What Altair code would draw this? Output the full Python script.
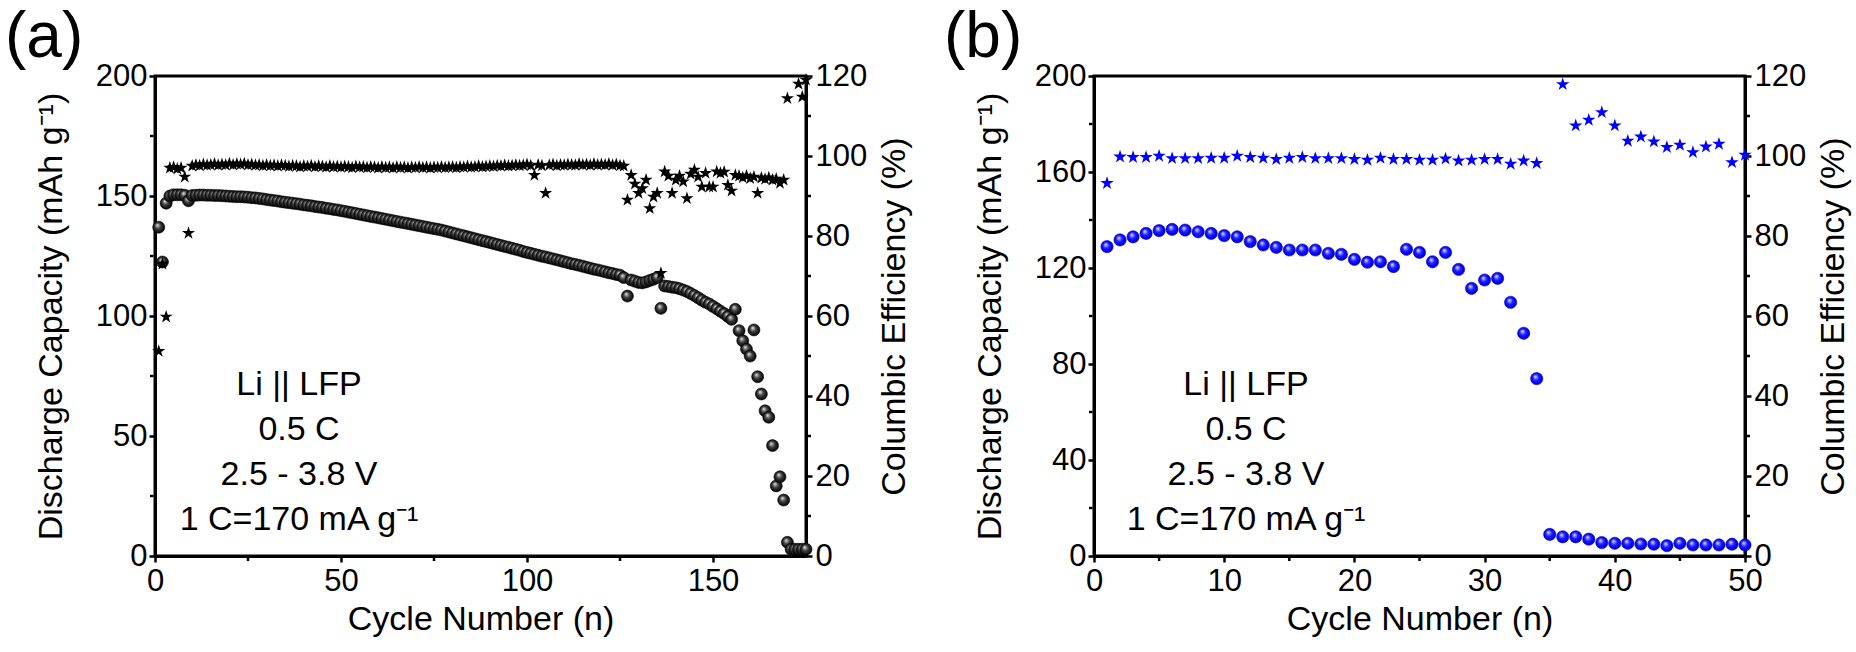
import altair as alt
import pandas as pd

# ---------------- data ----------------
cycles_a = list(range(1, 176))
capacity_a = [
    137.0, 122.5, 147.0, 150.0, 150.5, 150.5, 150.5, 150.3, 148.0, 150.2,
    150.3, 150.4, 150.4, 150.3, 150.3, 150.2, 150.2, 150.1, 150.0, 149.9,
    149.8, 149.7, 149.7, 149.6, 149.5, 149.3, 149.2, 149.0, 148.8, 148.5,
    148.3, 148.1, 147.9, 147.6, 147.4, 147.2, 147.0, 146.8, 146.6, 146.3,
    146.1, 145.9, 145.6, 145.4, 145.2, 144.9, 144.7, 144.4, 144.2, 143.9,
    143.6, 143.3, 143.0, 142.7, 142.4, 142.1, 141.8, 141.5, 141.2, 140.9,
    140.6, 140.3, 140.0, 139.7, 139.4, 139.1, 138.8, 138.5, 138.2, 137.9,
    137.6, 137.3, 137.0, 136.7, 136.4, 136.1, 135.8, 135.4, 135.0, 134.6,
    134.2, 133.8, 133.4, 133.0, 132.6, 132.2, 131.8, 131.4, 131.0, 130.6,
    130.2, 129.8, 129.4, 129.0, 128.6, 128.2, 127.8, 127.4, 126.9, 126.5,
    126.1, 125.7, 125.3, 124.9, 124.6, 124.2, 123.8, 123.4, 123.0, 122.6,
    122.2, 121.8, 121.5, 121.1, 120.7, 120.3, 119.9, 119.5, 119.2, 118.8,
    118.4, 118.0, 117.7, 117.3, 117.0, 116.0, 108.3, 115.0, 114.5, 114.0,
    113.8, 114.2, 114.8, 115.3, 116.0, 103.2, 112.5, 112.3, 112.0, 111.8,
    111.4, 110.8, 110.2, 109.4, 108.5, 107.6, 106.6, 105.7, 105.0, 104.0,
    103.0, 102.0, 101.0, 99.8, 98.6, 102.8, 93.9, 89.7, 86.2, 83.3,
    94.2, 74.7, 67.5, 60.5, 57.8, 46.0, 29.2, 33.0, 23.3, 5.7,
    2.8, 2.8, 2.8, 2.8, 2.8,
]
ce_a = [
    51.2, 73.0, 59.8, 97.0, 97.2, 96.8, 97.0, 94.8, 80.7, 97.5,
    97.8, 97.6, 97.9, 97.7, 97.8, 98.0, 97.7, 97.9, 97.8, 98.1,
    97.8, 98.0, 97.9, 98.1, 97.8, 97.9, 97.7, 97.8, 97.6, 97.8,
    97.6, 97.7, 97.5, 97.7, 97.6, 97.4, 97.6, 97.5, 97.3, 97.5,
    97.4, 97.6, 97.3, 97.5, 97.4, 97.2, 97.5, 97.3, 97.4, 97.2,
    97.4, 97.3, 97.1, 97.4, 97.2, 97.3, 97.1, 97.3, 97.2, 97.0,
    97.3, 97.1, 97.2, 97.0, 97.3, 97.1, 97.2, 97.0, 97.2, 97.1,
    97.3, 97.1, 97.2, 97.0, 97.2, 97.1, 97.3, 97.1, 97.2, 97.3,
    97.1, 97.3, 97.2, 97.4, 97.2, 97.3, 97.5, 97.3, 97.4, 97.5,
    97.4, 97.6, 97.5, 97.7, 97.5, 97.6, 97.8, 97.6, 97.7, 97.9,
    97.6, 95.2, 97.8, 97.6, 90.7, 97.7, 97.9, 97.6, 97.8, 97.7,
    97.9, 97.8, 97.7, 98.0, 97.8, 97.9, 97.7, 98.0, 97.8, 97.9,
    97.8, 98.0, 97.7, 97.9, 97.6, 97.5, 89.0, 95.2, 93.0, 90.7,
    91.9, 94.0, 86.9, 89.8, 90.7, 70.7, 96.1, 95.0, 90.7, 94.0,
    95.0, 93.6, 89.4, 95.5, 96.5, 94.8, 92.3, 95.7, 92.3, 92.3,
    96.1, 95.7, 96.0, 92.7, 91.3, 95.2, 95.0, 94.6, 95.0, 94.4,
    94.8, 90.7, 94.5, 94.2, 94.6, 94.0, 94.3, 93.2, 94.0, 114.4,
    None, None, 118.0, 114.8, 119.0,
]

cycles_b = list(range(1, 51))
capacity_b = [
    128.9, 131.7, 133.0, 134.4, 135.6, 136.1, 135.8, 135.1, 134.4, 133.5,
    133.0, 131.0, 129.6, 128.6, 127.5, 127.5, 127.5, 126.1, 125.7, 123.6,
    122.4, 122.6, 120.6, 127.8, 126.5, 122.6, 126.5, 119.4, 111.5, 115.0,
    115.7, 105.7, 92.8, 73.9, 9.0, 8.0, 8.0, 7.0, 5.6, 5.3,
    5.3, 5.0, 4.9, 4.3, 5.3, 4.6, 4.6, 4.6, 4.9, 4.6,
]
ce_b = [
    93.2, 99.8, 99.7, 99.7, 100.0, 99.4, 99.4, 99.4, 99.5, 99.5,
    100.0, 99.7, 99.5, 99.2, 99.5, 99.7, 99.4, 99.4, 99.4, 99.2,
    99.0, 99.5, 99.2, 99.2, 99.0, 99.0, 99.3, 98.8, 99.0, 99.2,
    99.2, 98.0, 98.8, 98.2, None, 117.9, 107.6, 109.0, 110.9, 107.6,
    103.75, 104.8, 103.6, 102.2, 102.75, 100.9, 102.3, 103.0, 98.4, 100.25,
]

x_domain_a = [0, 175]
x_ticks_a = [0, 50, 100, 150]
x_minor_a = [25, 75, 125]
cap_ticks_a = [0, 50, 100, 150, 200]
cap_minor_a = [25, 75, 125, 175]

x_domain_b = [0, 50]
x_ticks_b = [0, 10, 20, 30, 40, 50]
x_minor_b = [5, 15, 25, 35, 45]
cap_ticks_b = [0, 40, 80, 120, 160, 200]
cap_minor_b = [20, 60, 100, 140, 180]

cap_domain = [0, 200]
ce_domain = [0, 120]
ce_ticks = [0, 20, 40, 60, 80, 100, 120]
ce_minor = [10, 30, 50, 70, 90, 110]

annotation_lines = ["Li || LFP", "0.5 C", "2.5 - 3.8 V", "1 C=170 mA g\u207b\u00b9"]
x_title = "Cycle Number (n)"
cap_title = "Discharge Capacity (mAh g\u207b\u00b9)"
ce_title = "Columbic Efficiency (%)"

# ---------------- styling ----------------
FONT = "Liberation Sans, Arial, Helvetica, sans-serif"
W, H = 651, 480
LFS = 31   # tick labels
TFS = 34   # axis titles
STAR = ("M0,-1L0.2245,-0.309L0.951,-0.309L0.363,0.118L0.588,0.809L0,0.382"
        "L-0.588,0.809L-0.363,0.118L-0.951,-0.309L-0.2245,-0.309Z")


def ball_gradient(light, mid, dark, edge):
    return alt.RadialGradient(
        gradient="radial",
        stops=[
            alt.GradientStop(color="#ffffff", offset=0.0),
            alt.GradientStop(color=light, offset=0.16),
            alt.GradientStop(color=mid, offset=0.45),
            alt.GradientStop(color=dark, offset=0.78),
            alt.GradientStop(color=edge, offset=1.0),
        ],
        x1=0.38, y1=0.32, r1=0.0, x2=0.5, y2=0.5, r2=0.55,
    )


def panel(label, cyc, cap, ce, xdom, xt, xm, ct, cm, grad, ball_stroke, star_color,
          ball_size, star_size, ann_x):
    df_cap = pd.DataFrame({"n": cyc, "cap": cap})
    df_ce = pd.DataFrame({"n": cyc, "ce": ce}).dropna()

    xs = alt.Scale(domain=xdom, nice=False, zero=False)
    cs = alt.Scale(domain=cap_domain, nice=False)
    es = alt.Scale(domain=ce_domain, nice=False)

    x_axis = alt.Axis(values=xt, title=x_title, orient="bottom",
                      titlePadding=6, labelPadding=4)
    cap_axis = alt.Axis(values=ct, title=cap_title, orient="left",
                        titlePadding=27, labelPadding=2)
    ce_axis = alt.Axis(values=ce_ticks, title=ce_title, orient="right",
                       titleAngle=270, titleBaseline="top",
                       titlePadding=11, labelPadding=3)

    balls = alt.Chart(df_cap).mark_point(
        shape="circle", filled=True, size=ball_size, fill=grad,
        stroke=ball_stroke, strokeWidth=0.6, opacity=1,
    ).encode(
        x=alt.X("n:Q", scale=xs, axis=x_axis),
        y=alt.Y("cap:Q", scale=cs, axis=cap_axis),
    )

    minor_x = alt.Chart(pd.DataFrame({"n": xm})).mark_rule(
        color="black", strokeWidth=2.5).encode(
        x=alt.X("n:Q", scale=xs, axis=x_axis),
        y=alt.value(H + 1.5), y2=alt.value(H + 5))

    minor_l = alt.Chart(pd.DataFrame({"cap": cm})).mark_rule(
        color="black", strokeWidth=2.5).encode(
        y=alt.Y("cap:Q", scale=cs, axis=cap_axis),
        x=alt.value(-1.5), x2=alt.value(-5))

    ann = alt.Chart(pd.DataFrame({"k": [0]})).mark_text(
        text=annotation_lines, font=FONT, fontSize=34, lineHeight=45,
        align="center", baseline="alphabetic", color="black",
    ).encode(x=alt.value(ann_x), y=alt.value(319))

    lab = alt.Chart(pd.DataFrame({"k": [0]})).mark_text(
        text=label, font=FONT, fontSize=64, align="left",
        baseline="alphabetic", color="black",
    ).encode(x=alt.value(-150), y=alt.value(-19))

    stars = alt.Chart(df_ce).mark_point(
        shape=STAR, filled=True, size=star_size, color=star_color, opacity=1,
    ).encode(
        x=alt.X("n:Q", scale=xs, axis=x_axis),
        y=alt.Y("ce:Q", scale=es, axis=ce_axis),
    )

    minor_r = alt.Chart(pd.DataFrame({"ce": ce_minor})).mark_rule(
        color="black", strokeWidth=2.5).encode(
        y=alt.Y("ce:Q", scale=es, axis=ce_axis),
        x=alt.value(W + 1.5), x2=alt.value(W + 5))

    left = alt.layer(balls, minor_x, minor_l, ann, lab)
    right = alt.layer(stars, minor_r)
    return alt.layer(left, right).resolve_scale(y="independent").properties(
        width=W, height=H)


grad_a = ball_gradient("#a8a8a8", "#404040", "#141414", "#000000")
grad_b = ball_gradient("#a0a0ff", "#2020ff", "#0000f0", "#0000c0")

pa = panel("(a)", cycles_a, capacity_a, ce_a, x_domain_a, x_ticks_a, x_minor_a,
           cap_ticks_a, cap_minor_a, grad_a, "#000000", "black", 144, 190, 144)
pb = panel("(b)", cycles_b, capacity_b, ce_b, x_domain_b, x_ticks_b, x_minor_b,
           cap_ticks_b, cap_minor_b, grad_b, "#0000d0", "#0000ff", 150, 200, 152)

chart = alt.hconcat(pa, pb, spacing=28).configure_view(
    stroke="black", strokeWidth=3
).configure_axis(
    labelFont=FONT, titleFont=FONT, labelFontSize=LFS, titleFontSize=TFS,
    labelColor="black", titleColor="black", titleFontWeight="normal",
    domainColor="black", domainWidth=3, tickColor="black", tickWidth=2.5,
    tickSize=6, grid=False, labelFlush=False,
).properties(
    padding={"left": 3, "top": 4, "right": 3, "bottom": 3},
    background="white",
)

chart.save("out.html", embed_options={"renderer": "svg", "actions": False})
